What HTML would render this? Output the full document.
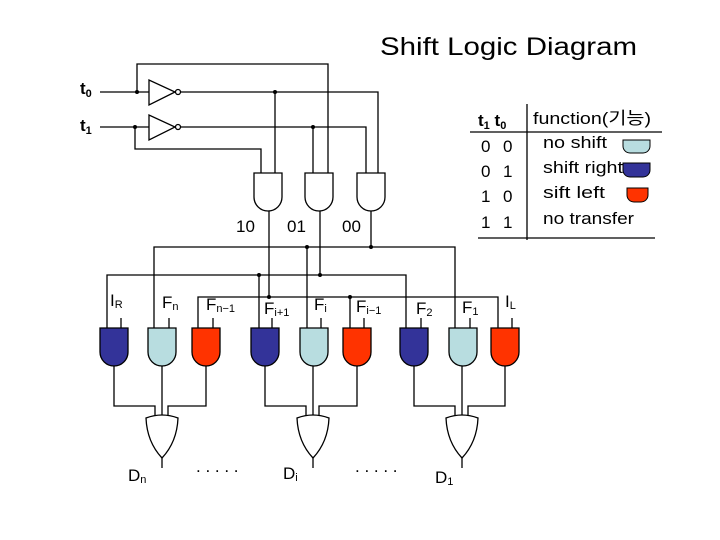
<!DOCTYPE html>
<html><head><meta charset="utf-8"><style>
html,body{margin:0;padding:0;background:#fff;}
svg{display:block;}
text{font-family:"Liberation Sans","Noto Sans CJK KR",sans-serif;fill:#000;}
</style></head><body>
<svg width="720" height="540" viewBox="0 0 720 540" xmlns="http://www.w3.org/2000/svg">
<defs>
<path id="and" d="M0,0 H28 V24 A14,14 0 0 1 0,24 Z"/>
<path id="or" d="M0,0 Q16,-6 32,0 Q31,24 16,40 Q1,24 0,0 Z"/>
</defs>
<text x="380" y="55" font-size="25" textLength="257" lengthAdjust="spacingAndGlyphs">Shift Logic Diagram</text>
<g stroke="#000" stroke-width="1.3" fill="none">
<line x1="100" y1="92" x2="149" y2="92"/>
<line x1="100" y1="127" x2="149" y2="127"/>
<polygon points="149,80 149,105 175,92" fill="#fff"/>
<polygon points="149,115 149,140 175,127" fill="#fff"/>
<circle cx="178" cy="92" r="2.5" fill="#fff"/>
<circle cx="178" cy="127" r="2.5" fill="#fff"/>
<polyline points="137,92 137,64 328,64 328,173"/>
<polyline points="181,92 378,92 378,173"/>
<line x1="275" y1="92" x2="275" y2="173"/>
<polyline points="181,127 366,127 366,173"/>
<line x1="313" y1="127" x2="313" y2="173"/>
<polyline points="135,127 135,149 261,149 261,173"/>
<use href="#and" x="254" y="173" fill="#fff"/>
<use href="#and" x="305" y="173" fill="#fff"/>
<use href="#and" x="357" y="173" fill="#fff"/>
<line x1="269" y1="211" x2="269" y2="297"/>
<line x1="320" y1="211" x2="320" y2="275"/>
<line x1="371" y1="211" x2="371" y2="247"/>
<polyline points="154,328 154,247 455,247 455,328"/>
<line x1="307" y1="247" x2="307" y2="328"/>
<polyline points="107,328 107,275 406,275 406,328"/>
<line x1="259" y1="275" x2="259" y2="328"/>
<polyline points="198,328 198,297 498,297 498,328"/>
<line x1="350" y1="297" x2="350" y2="328"/>
<line x1="121" y1="318" x2="121" y2="328"/>
<line x1="169" y1="318" x2="169" y2="328"/>
<line x1="213" y1="318" x2="213" y2="328"/>
<line x1="272" y1="318" x2="272" y2="328"/>
<line x1="321" y1="318" x2="321" y2="328"/>
<line x1="364" y1="318" x2="364" y2="328"/>
<line x1="421" y1="318" x2="421" y2="328"/>
<line x1="470" y1="318" x2="470" y2="328"/>
<line x1="512" y1="318" x2="512" y2="328"/>
<polyline points="114,366 114,406 155,406 155,416"/>
<polyline points="206,366 206,406 168,406 168,416"/>
<line x1="162" y1="366" x2="162" y2="416"/>
<polyline points="265,366 265,406 306,406 306,416"/>
<polyline points="357,366 357,406 319,406 319,416"/>
<line x1="313" y1="366" x2="313" y2="416"/>
<polyline points="414,366 414,406 455,406 455,416"/>
<polyline points="505,366 505,406 468,406 468,416"/>
<line x1="462" y1="366" x2="462" y2="416"/>
<use href="#or" x="146" y="418" fill="#fff"/>
<use href="#or" x="297" y="418" fill="#fff"/>
<use href="#or" x="446" y="418" fill="#fff"/>
<line x1="162" y1="458" x2="162" y2="468"/>
<line x1="313" y1="458" x2="313" y2="468"/>
<line x1="462" y1="458" x2="462" y2="468"/>
<use href="#and" x="100" y="328" fill="#333399"/>
<use href="#and" x="148" y="328" fill="#b8dde0"/>
<use href="#and" x="192" y="328" fill="#ff3300"/>
<use href="#and" x="251" y="328" fill="#333399"/>
<use href="#and" x="300" y="328" fill="#b8dde0"/>
<use href="#and" x="343" y="328" fill="#ff3300"/>
<use href="#and" x="400" y="328" fill="#333399"/>
<use href="#and" x="449" y="328" fill="#b8dde0"/>
<use href="#and" x="491" y="328" fill="#ff3300"/>
<line x1="470" y1="132" x2="662" y2="132"/>
<line x1="527" y1="104" x2="527" y2="240"/>
<line x1="478" y1="238" x2="655" y2="238"/>
</g>
<g fill="#000">
<circle cx="137" cy="92" r="2"/><circle cx="135" cy="127" r="2"/>
<circle cx="275" cy="92" r="2"/><circle cx="313" cy="127" r="2"/>
<circle cx="307" cy="247" r="2"/><circle cx="371" cy="247" r="2"/>
<circle cx="259" cy="275" r="2"/><circle cx="320" cy="275" r="2"/>
<circle cx="269" cy="297" r="2"/><circle cx="350" cy="297" r="2"/>
</g>
<g stroke="#000" stroke-width="1">
<path d="M623,140 H650 V146 A7,7 0 0 1 643,153 H630 A7,7 0 0 1 623,146 Z" fill="#b8dde0"/>
<path d="M623,163 H650 V170 A7,7 0 0 1 643,177 H630 A7,7 0 0 1 623,170 Z" fill="#333399"/>
<path d="M627,188 H648 V195 A7,7 0 0 1 641,202 H634 A7,7 0 0 1 627,195 Z" fill="#ff3300"/>
</g>
<g font-size="17">
<text x="80" y="94" font-weight="bold">t<tspan font-size="11" dy="3">0</tspan></text>
<text x="80" y="131" font-weight="bold">t<tspan font-size="11" dy="3">1</tspan></text>
<text x="236" y="232">10</text>
<text x="287" y="232">01</text>
<text x="342" y="232">00</text>
<text x="110" y="306">I<tspan font-size="11" dy="2">R</tspan></text>
<text x="162" y="308">F<tspan font-size="11" dy="2">n</tspan></text>
<text x="206" y="310">F<tspan font-size="11" dy="2">n−1</tspan></text>
<text x="264" y="314">F<tspan font-size="11" dy="2">i+1</tspan></text>
<text x="314" y="310">F<tspan font-size="11" dy="2">i</tspan></text>
<text x="356" y="312">F<tspan font-size="11" dy="2">i−1</tspan></text>
<text x="416" y="314">F<tspan font-size="11" dy="2">2</tspan></text>
<text x="462" y="313">F<tspan font-size="11" dy="2">1</tspan></text>
<text x="505" y="307">I<tspan font-size="11" dy="2">L</tspan></text>
<text x="128" y="481">D<tspan font-size="11" dy="2">n</tspan></text>
<text x="283" y="479">D<tspan font-size="11" dy="2">i</tspan></text>
<text x="435" y="483">D<tspan font-size="11" dy="2">1</tspan></text>
<text x="196" y="472">. . . . .</text>
<text x="355" y="472">. . . . .</text>
<text x="478" y="126" font-weight="bold">t<tspan font-size="11" dy="3">1</tspan><tspan dy="-3"> t</tspan><tspan font-size="11" dy="3">0</tspan></text>
<text x="533" y="124" textLength="118" lengthAdjust="spacingAndGlyphs">function(기능)</text>
<text x="481" y="152">0</text><text x="503" y="152">0</text>
<text x="481" y="177">0</text><text x="503" y="177">1</text>
<text x="481" y="202">1</text><text x="503" y="202">0</text>
<text x="481" y="228">1</text><text x="503" y="228">1</text>
<text x="543" y="148" textLength="64" lengthAdjust="spacingAndGlyphs">no shift</text>
<text x="543" y="173" textLength="80" lengthAdjust="spacingAndGlyphs">shift right</text>
<text x="543" y="198" textLength="62" lengthAdjust="spacingAndGlyphs">sift left</text>
<text x="543" y="224" textLength="91" lengthAdjust="spacingAndGlyphs">no transfer</text>
</g>
</svg>
</body></html>
